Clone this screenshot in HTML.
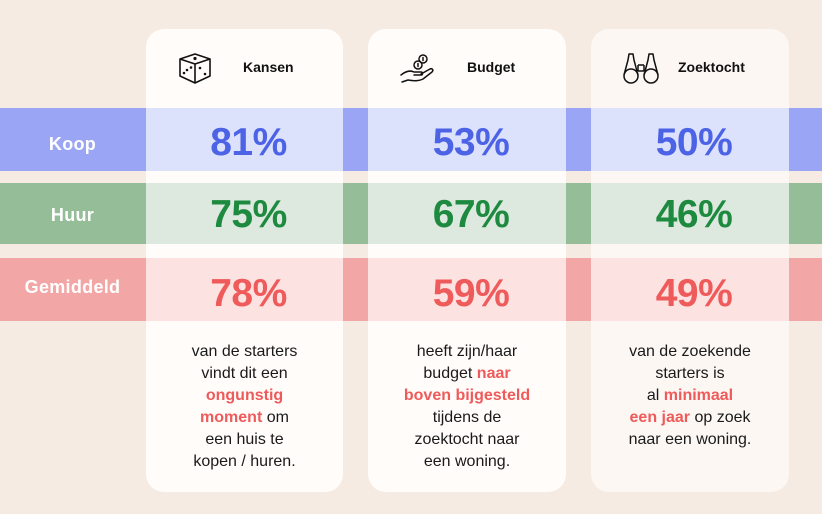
<!DOCTYPE html>
<html><head><meta charset="utf-8"><style>
*{margin:0;padding:0;box-sizing:border-box}
body{width:822px;height:514px;background:#f5ebe3;position:relative;overflow:hidden;font-family:"Liberation Sans",sans-serif}
.band{position:absolute;left:0;width:822px}
.card{position:absolute;top:29px;height:463px;border-radius:18px;background:#fffbf8;overflow:hidden}
.card .b{position:absolute;left:0;right:0}
.lbl{position:absolute;left:0;width:145px;text-align:center;color:#fff;font-weight:bold;font-size:18px;letter-spacing:0.3px}
.num{position:absolute;left:4px;right:-4px;text-align:center;font-weight:bold;font-size:39px;letter-spacing:-0.5px;line-height:40px}
.hd{position:absolute;font-weight:bold;font-size:14px;color:#111;top:59px}
.desc{position:absolute;left:0;right:0;top:312px;text-align:center;font-size:16px;line-height:22px;color:#1a1a1a}
.desc b{color:#ef5a5a}
svg{position:absolute}
</style></head><body>
<div class="band" style="top:108px;height:63px;background:#9aa6f5"></div>
<div class="band" style="top:183px;height:61px;background:#95bd97"></div>
<div class="band" style="top:258px;height:63px;background:#f2a7a6"></div>
<div class="lbl" style="top:134px">Koop</div>
<div class="lbl" style="top:205px">Huur</div>
<div class="lbl" style="top:277px">Gemiddeld</div>

<div class="card" style="left:146px;width:197px;background:#fffcfa">
 <div class="b" style="top:79px;height:63px;background:#dde2fc"></div>
 <div class="b" style="top:154px;height:61px;background:#dde9df"></div>
 <div class="b" style="top:229px;height:63px;background:#fde2e2"></div>
 <div class="num" style="top:94px;color:#4c63e6">81%</div>
 <div class="num" style="top:166px;color:#1d8a3f">75%</div>
 <div class="num" style="top:245px;color:#ef5a5a">78%</div>
 <div class="desc">van de starters<br>vindt dit een<br><b>ongunstig<br>moment</b> om<br>een huis te<br>kopen / huren.</div>
</div>
<div class="card" style="left:368px;width:198px;background:#fffcfa">
 <div class="b" style="top:79px;height:63px;background:#dde2fc"></div>
 <div class="b" style="top:154px;height:61px;background:#dde9df"></div>
 <div class="b" style="top:229px;height:63px;background:#fde2e2"></div>
 <div class="num" style="top:94px;color:#4c63e6">53%</div>
 <div class="num" style="top:166px;color:#1d8a3f">67%</div>
 <div class="num" style="top:245px;color:#ef5a5a">59%</div>
 <div class="desc">heeft zijn/haar<br>budget <b>naar<br>boven bijgesteld</b><br>tijdens de<br>zoektocht naar<br>een woning.</div>
</div>
<div class="card" style="left:591px;width:198px;background:#fcf7f3">
 <div class="b" style="top:79px;height:63px;background:#dde2fc"></div>
 <div class="b" style="top:154px;height:61px;background:#dde9df"></div>
 <div class="b" style="top:229px;height:63px;background:#fde2e2"></div>
 <div class="num" style="top:94px;color:#4c63e6">50%</div>
 <div class="num" style="top:166px;color:#1d8a3f">46%</div>
 <div class="num" style="top:245px;color:#ef5a5a">49%</div>
 <div class="desc">van de zoekende<br>starters is<br>al <b>minimaal<br>een jaar</b> op zoek<br>naar een woning.</div>
</div>

<div class="hd" style="left:243px">Kansen</div>
<div class="hd" style="left:467px">Budget</div>
<div class="hd" style="left:678px">Zoektocht</div>

<!-- dice -->
<svg style="left:177px;top:52px" width="36" height="33" viewBox="0 0 36 33" fill="none" stroke="#111" stroke-width="1.6" stroke-linejoin="round">
 <path d="M18 2 L33 7 L33 24 L18 31 L3 24 L3 7 Z"/>
 <path d="M3 7 L18 12 L33 7 M18 12 L18 31"/>
 <g fill="#111" stroke="none">
  <circle cx="18" cy="6.5" r="1.6"/>
  <circle cx="7" cy="21" r="1.3"/><circle cx="10" cy="18" r="1.3"/><circle cx="14" cy="15.5" r="1.3"/>
  <circle cx="23" cy="16" r="1.3"/><circle cx="28" cy="22" r="1.3"/>
 </g>
</svg>
<!-- budget -->
<svg style="left:399px;top:53px" width="40" height="31" viewBox="0 0 40 31" fill="none" stroke="#111" stroke-width="1.5" stroke-linecap="round" stroke-linejoin="round">
 <circle cx="24" cy="6" r="4"/><circle cx="19" cy="12" r="4"/>
 <path d="M19 10.5 v3"/><path d="M24 4.5 v3"/>
 <path d="M2 22 C7 18 11 17 15 19 L22 19 C24 19 24 22 22 22 L15 22"/>
 <path d="M22 21 L31 16 C33 15 35 17 33 19 L24 26 C20 28 14 28 9 27 L3 29"/>
</svg>
<!-- binoculars -->
<svg style="left:622px;top:52px" width="38" height="33" viewBox="0 0 38 33" fill="none" stroke="#111" stroke-width="1.5" stroke-linejoin="round">
 <circle cx="9" cy="24" r="7"/><circle cx="29" cy="24" r="7"/>
 <path d="M2 23 L6 8 L7 2 L11 2 L12 8 L16 23"/>
 <path d="M36 23 L32 8 L31 2 L27 2 L26 8 L22 23"/>
 <path d="M16 13 L22 13 M16 19 L22 19 M16 13 L16 19 M22 13 L22 19"/>
</svg>
</body></html>
